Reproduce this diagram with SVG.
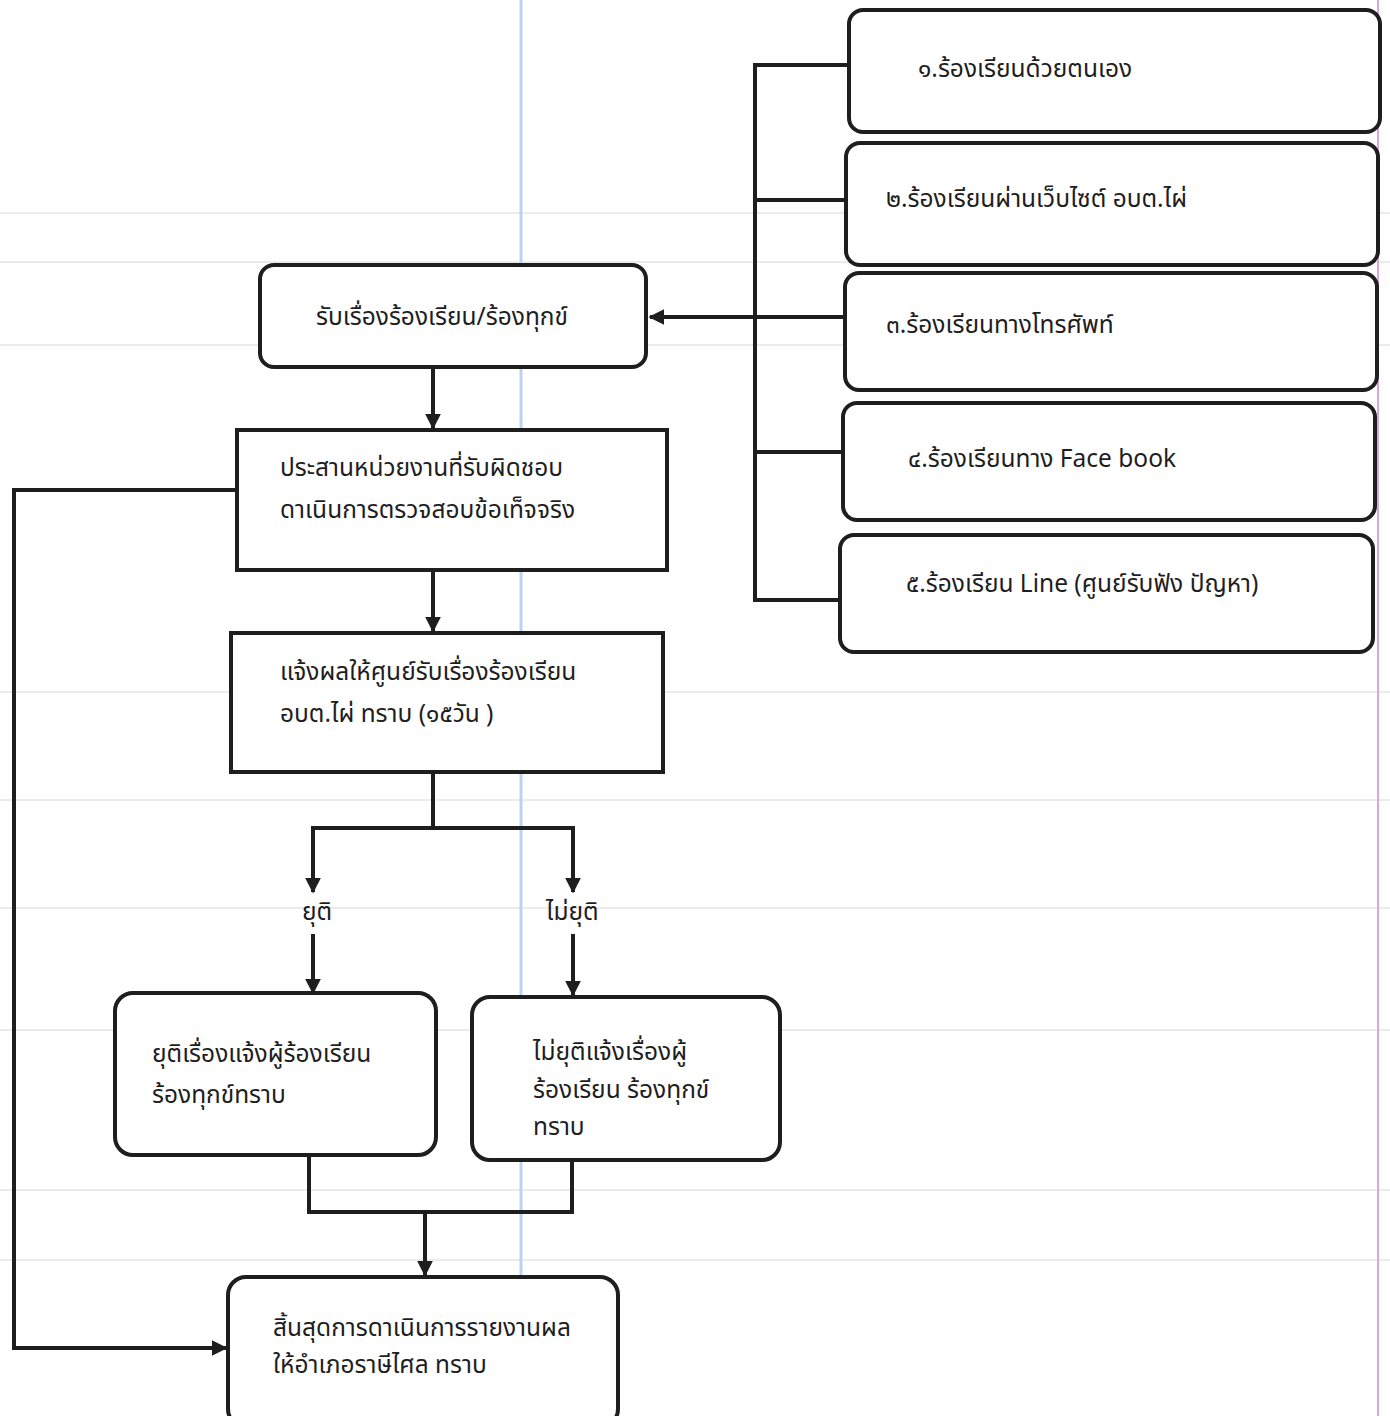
<svg xmlns="http://www.w3.org/2000/svg" width="1390" height="1416" viewBox="0 0 1390 1416">
<defs>
<style>
.box{fill:#fff;stroke:#1e1e1e;stroke-width:4}
.ln{fill:none;stroke:#1e1e1e;stroke-width:4}
.t{font-family:"Noto Sans Thai","Noto Sans","DejaVu Sans",sans-serif;font-size:24.5px;fill:#1e1e1e}
.bg{stroke:#d8d8d8;stroke-width:1}
</style>
<marker id="ah" viewBox="0 0 10 10" refX="9" refY="5" markerWidth="4" markerHeight="4" orient="auto" markerUnits="strokeWidth">
<path d="M0,0 L10,5 L0,10 z" fill="#1e1e1e"/>
</marker>
</defs>
<rect width="1390" height="1416" fill="#fff"/>
<g id="paper">
<line class="bg" x1="0" y1="213" x2="1390" y2="213"/>
<line class="bg" x1="0" y1="262" x2="1390" y2="262"/>
<line class="bg" x1="0" y1="345" x2="1390" y2="345"/>
<line class="bg" x1="0" y1="692" x2="1390" y2="692"/>
<line class="bg" x1="0" y1="800" x2="1390" y2="800"/>
<line class="bg" x1="0" y1="908" x2="1390" y2="908"/>
<line class="bg" x1="0" y1="1030" x2="1390" y2="1030"/>
<line class="bg" x1="0" y1="1190" x2="1390" y2="1190"/>
<line class="bg" x1="0" y1="1260" x2="1390" y2="1260"/>
<line x1="521" y1="0" x2="521" y2="1416" stroke="#bcd3f0" stroke-width="3"/>
<line x1="1378" y1="0" x2="1378" y2="1416" stroke="#d9a6e0" stroke-width="2"/>
</g>
<g id="connectors">
<path class="ln" d="M849,65 H755 V600 H840"/>
<line class="ln" x1="755" y1="200" x2="846" y2="200"/>
<line class="ln" x1="755" y1="452" x2="843" y2="452"/>
<line class="ln" x1="845" y1="317" x2="650" y2="317" stroke-width="2.5" marker-end="url(#ah)"/>
<line class="ln" x1="433" y1="367" x2="433" y2="428" marker-end="url(#ah)"/>
<line class="ln" x1="433" y1="572" x2="433" y2="631" stroke-width="3" marker-end="url(#ah)"/>
<path class="ln" d="M433,772 V828 H313 V892" marker-end="url(#ah)"/>
<path class="ln" d="M433,828 H573 V892" marker-end="url(#ah)"/>
<line class="ln" x1="313" y1="934" x2="313" y2="993" marker-end="url(#ah)"/>
<line class="ln" x1="573" y1="934" x2="573" y2="995" marker-end="url(#ah)"/>
<path class="ln" d="M309,1155 V1212 H572 V1160"/>
<line class="ln" x1="425" y1="1212" x2="425" y2="1275" marker-end="url(#ah)"/>
<path class="ln" d="M237,490 H14 V1348 H226" marker-end="url(#ah)"/>
</g>
<g id="n1"><rect class="box" x="849" y="10" width="531" height="122" rx="14"/><text class="t" x="918" y="77">๑.ร้องเรียนด้วยตนเอง</text></g>
<g id="n2"><rect class="box" x="846" y="143" width="532" height="122" rx="14"/><text class="t" x="886" y="207">๒.ร้องเรียนผ่านเว็บไซต์ อบต.ไผ่</text></g>
<g id="n3"><rect class="box" x="845" y="273" width="532" height="117" rx="14"/><text class="t" x="886" y="333">๓.ร้องเรียนทางโทรศัพท์</text></g>
<g id="n4"><rect class="box" x="843" y="403" width="532" height="117" rx="14"/><text class="t" x="908" y="467">๔.ร้องเรียนทาง Face book</text></g>
<g id="n5"><rect class="box" x="840" y="535" width="533" height="117" rx="14"/><text class="t" x="906" y="592">๕.ร้องเรียน Line (ศูนย์รับฟัง ปัญหา)</text></g>
<g id="m1"><rect class="box" x="260" y="265" width="386" height="102" rx="14"/><text class="t" x="316" y="325">รับเรื่องร้องเรียน/ร้องทุกข์</text></g>
<g id="m2"><rect class="box" x="237" y="430" width="430" height="140"/><text class="t" x="280" y="476">ประสานหน่วยงานที่รับผิดชอบ</text><text class="t" x="280" y="518">ดาเนินการตรวจสอบข้อเท็จจริง</text></g>
<g id="m3"><rect class="box" x="231" y="633" width="432" height="139"/><text class="t" x="280" y="680">แจ้งผลให้ศูนย์รับเรื่องร้องเรียน</text><text class="t" x="280" y="722">อบต.ไผ่ ทราบ (๑๕วัน )</text></g>
<g id="l1"><text class="t" x="302" y="920" font-size="20">ยุติ</text></g>
<g id="l2"><text class="t" x="546" y="920" font-size="20">ไม่ยุติ</text></g>
<g id="m4"><rect class="box" x="115" y="993" width="321" height="162" rx="18"/><text class="t" x="152" y="1062">ยุติเรื่องแจ้งผู้ร้องเรียน</text><text class="t" x="152" y="1103">ร้องทุกข์ทราบ</text></g>
<g id="m5"><rect class="box" x="472" y="997" width="308" height="163" rx="18"/><text class="t" x="533" y="1060">ไม่ยุติแจ้งเรื่องผู้</text><text class="t" x="533" y="1098">ร้องเรียน ร้องทุกข์</text><text class="t" x="533" y="1135">ทราบ</text></g>
<g id="m6"><rect class="box" x="228" y="1277" width="390" height="150" rx="18"/><text class="t" x="273" y="1336">สิ้นสุดการดาเนินการรายงานผล</text><text class="t" x="273" y="1373">ให้อำเภอราษีไศล ทราบ</text></g>
</svg>
